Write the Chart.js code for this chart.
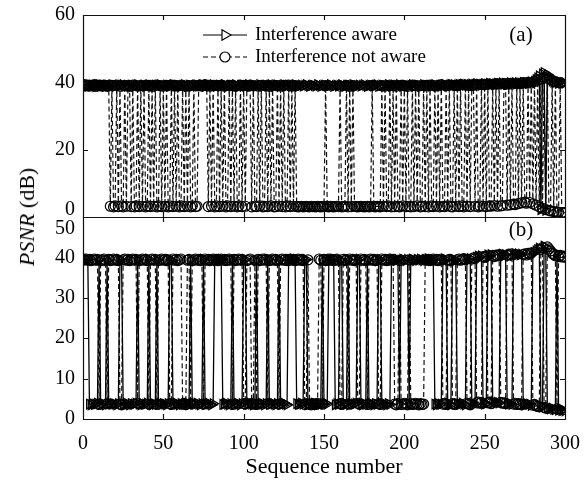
<!DOCTYPE html>
<html>
<head>
<meta charset="utf-8">
<script src="https://cdn.jsdelivr.net/npm/chart.js@4.4.0/dist/chart.umd.min.js"></script>
<style>
  html, body { margin: 0; padding: 0; background: #fff; }
  #fig { position: relative; width: 586px; height: 484px; overflow: hidden; font-family: "Liberation Serif", "Times New Roman", serif; color: #000; }
  #panelA { position: absolute; left: 0; top: 0; }
  #panelB { position: absolute; left: 0; top: 205px; }
  #ytitle { position: absolute; left: 27px; top: 217px; transform: translate(-50%, -50%) rotate(-90deg); font-size: 22px; white-space: nowrap; }
</style>
</head>
<body>
<div id="fig">
  <canvas id="panelA" width="586" height="232"></canvas>
  <canvas id="panelB" width="586" height="279"></canvas>
  <div id="ytitle"><i>PSNR</i> (dB)</div>
</div>
<script>
// sequence numbers 1..300 (x categories)
const seqNumbers = Array.from({ length: 300 }, (_, i) => i + 1);
const xTicks = [0, 50, 100, 150, 200, 250, 300];
const yTicksA = [0, 20, 40, 60];
const yTicksB = [0, 10, 20, 30, 40, 50];
const seriesNames = ['Interference aware', 'Interference not aware'];

// panel (a)
const awareA = [
  39.2,39.0,38.8,39.1,38.9,39.2,39.0,38.7,39.1,39.3,
  38.9,39.0,39.2,38.8,39.1,39.0,38.9,39.3,39.1,38.8,
  39.0,39.2,38.9,39.1,39.3,38.8,39.0,39.1,38.9,39.2,
  39.1,38.8,39.0,39.3,39.1,38.9,39.0,39.2,38.8,39.1,
  39.3,39.0,38.9,39.1,39.2,38.8,39.0,39.3,39.1,38.9,
  39.0,39.2,39.1,38.8,39.0,39.3,38.9,39.1,39.2,39.0,
  38.8,39.1,39.3,39.0,38.9,39.2,39.1,38.8,39.0,39.2,
  39.1,38.9,39.0,39.3,39.1,38.8,39.0,39.2,38.9,39.1,
  39.3,39.0,38.8,39.1,39.2,38.9,39.0,39.3,39.1,38.8,
  39.0,39.2,38.9,39.1,39.3,39.0,38.8,39.1,39.2,39.0,
  38.9,39.1,39.3,38.8,39.0,39.2,39.1,38.9,39.0,39.3,
  39.1,38.8,39.0,39.2,38.9,39.1,39.3,39.0,38.8,39.1,
  39.2,39.0,38.9,39.1,39.3,38.8,39.0,39.2,39.1,38.9,
  39.0,39.3,39.1,38.8,39.0,39.2,38.9,39.1,39.3,39.0,
  38.8,39.1,39.2,39.0,38.9,39.3,39.1,38.8,39.0,39.2,
  39.1,38.9,39.0,39.3,39.1,38.8,39.0,39.2,38.9,39.1,
  39.3,39.0,38.8,39.1,39.2,38.9,39.0,39.3,39.1,38.8,
  39.0,39.2,38.9,39.1,39.3,39.0,38.8,39.1,39.2,39.0,
  38.9,39.1,39.3,38.8,39.0,39.2,39.1,38.9,39.0,39.3,
  39.1,38.8,39.0,39.2,38.9,39.1,39.3,39.0,38.8,39.1,
  39.2,39.0,38.9,39.1,39.3,38.8,39.0,39.2,39.1,38.9,
  39.0,39.3,39.1,38.8,39.0,39.2,38.9,39.1,39.3,39.0,
  38.9,39.1,39.2,39.0,39.3,39.1,38.9,39.2,39.4,39.1,
  39.3,39.0,39.2,39.4,39.1,39.3,39.5,39.2,39.4,39.1,
  39.3,39.5,39.2,39.4,39.6,39.3,39.5,39.2,39.4,39.6,
  39.3,39.5,39.7,39.4,39.6,39.3,39.5,39.7,39.4,39.6,
  39.8,39.5,39.7,39.4,39.6,39.8,39.5,39.7,39.9,39.6,
  39.8,39.5,39.7,40.0,39.7,39.9,39.6,39.8,40.1,39.9,
  40.3,40.8,41.3,41.9,2.2,42.5,42.9,2.0,42.3,41.5,
  40.8,40.4,40.1,39.9,40.2,39.8,40.0,39.7,39.9,39.8
];
const notAwareA = [
  39.3,39.0,39.2,38.9,39.1,39.0,39.3,38.8,39.1,39.2,
  39.0,38.9,39.2,39.1,38.8,39.0,3.2,39.1,3.0,3.3,
  39.2,3.1,38.9,3.3,3.0,39.1,3.2,39.0,38.8,3.1,
  39.2,3.0,3.3,38.9,3.1,39.1,3.2,39.0,3.0,3.3,
  39.1,3.1,38.8,3.2,39.2,3.0,3.3,39.0,3.1,38.9,
  3.2,39.1,3.0,3.3,39.2,3.1,38.9,3.2,39.0,3.0,
  3.3,39.1,3.1,38.8,3.2,39.0,3.0,3.3,39.2,3.1,
  3.2,39.0,39.2,38.9,39.1,39.3,39.0,3.1,38.9,3.2,
  39.1,3.0,3.3,39.0,3.1,39.2,3.2,38.9,3.0,3.3,
  39.1,3.1,39.0,3.2,38.8,3.0,3.3,39.2,3.1,39.0,
  3.2,39.1,38.9,39.2,3.0,39.0,3.2,3.1,38.9,3.3,
  39.1,3.0,3.2,39.0,3.1,38.8,3.3,39.2,3.0,3.1,
  39.0,3.2,38.9,3.1,39.1,3.0,3.3,39.2,3.1,38.9,
  3.2,39.0,3.1,3.0,3.1,3.2,3.0,3.1,3.2,3.1,
  3.0,3.2,3.1,3.1,3.0,3.2,3.1,3.0,3.1,3.2,
  39.0,3.1,3.0,3.2,3.1,3.0,3.1,3.2,3.1,38.9,
  3.0,3.1,3.2,39.1,3.0,38.8,3.1,39.0,3.2,3.1,
  3.0,3.1,3.2,3.1,3.0,3.1,3.2,3.0,3.1,39.1,
  3.1,3.0,3.2,3.1,3.0,39.0,3.2,38.9,3.1,3.3,
  39.2,3.0,39.0,3.1,38.9,3.2,3.0,39.1,3.3,39.0,
  3.1,38.8,3.2,3.0,39.2,3.1,39.0,3.3,38.9,3.0,
  3.2,39.1,3.1,39.0,3.0,39.2,3.3,3.1,38.9,3.2,
  39.1,3.0,39.3,3.2,3.1,39.0,3.3,39.2,3.1,3.0,
  39.1,3.2,39.0,3.1,39.3,3.3,3.0,39.2,3.2,39.1,
  3.1,39.0,39.3,3.2,39.2,3.0,3.3,39.4,3.2,39.3,
  3.1,39.5,3.3,3.2,39.4,3.4,39.6,3.2,39.5,3.3,
  3.4,39.6,39.4,3.5,39.7,3.6,39.5,3.8,3.7,39.8,
  4.0,39.6,4.2,39.9,4.4,4.1,40.0,4.3,39.8,3.9,
  40.2,3.5,40.6,3.0,41.0,2.6,41.5,2.2,41.2,2.0,
  1.8,40.6,1.6,40.2,1.5,1.4,39.9,1.3,1.2,1.3
];

// panel (b)
const awareB = [
  39.6,39.3,39.5,3.7,3.5,3.8,3.6,3.7,3.9,39.4,
  3.6,3.8,3.7,3.5,39.2,3.7,3.9,3.6,3.8,3.7,
  3.5,3.8,39.5,39.3,3.7,3.6,3.9,3.7,3.5,3.8,
  3.6,3.7,3.9,39.4,3.7,3.5,3.8,3.6,3.7,3.9,
  39.6,3.7,3.5,3.8,3.6,39.3,3.7,3.9,3.6,3.8,
  3.7,3.5,3.8,39.5,39.2,3.6,3.7,3.9,3.7,3.5,
  3.8,3.6,3.7,3.9,3.7,3.5,39.4,3.8,3.6,3.7,
  3.9,3.7,3.5,3.8,39.6,3.6,3.7,3.9,3.7,3.5,
  3.8,39.4,39.2,39.5,39.3,39.6,3.6,3.7,3.9,3.7,
  3.5,3.8,39.4,3.6,3.7,3.9,3.7,3.5,3.8,39.3,
  39.5,3.6,3.7,3.9,3.7,3.5,3.8,39.2,3.6,3.7,
  3.9,3.7,3.5,3.8,39.6,3.6,3.7,3.9,3.7,3.5,
  3.8,39.4,3.6,3.7,3.9,3.7,3.5,39.3,39.5,39.2,
  39.6,39.4,3.8,3.6,3.7,3.9,3.7,39.3,39.5,3.5,
  3.8,3.6,3.7,3.9,3.7,3.5,3.8,3.6,39.4,3.7,
  3.9,3.7,39.2,39.5,39.3,39.6,3.5,3.8,3.6,39.4,
  39.2,3.7,3.9,3.7,39.5,3.5,3.8,3.6,3.7,3.9,
  39.3,39.6,3.7,3.5,3.8,3.6,39.4,3.7,3.9,3.7,
  3.5,3.8,3.6,39.2,39.5,3.7,3.9,3.7,3.5,3.8,
  3.6,39.3,39.6,39.4,39.2,39.5,3.7,39.3,39.6,39.4,
  39.2,39.5,3.8,39.3,39.6,39.4,39.2,39.5,39.3,39.6,
  39.4,39.2,39.5,39.3,39.6,39.4,39.2,39.5,3.7,3.5,
  3.8,3.6,3.7,39.3,39.6,39.4,3.9,3.7,3.5,39.2,
  39.5,39.3,3.8,3.6,3.7,3.9,3.7,3.5,39.6,39.4,
  39.7,3.8,3.6,3.7,40.0,40.3,40.1,40.4,3.9,3.7,
  3.8,40.6,40.3,40.7,4.0,4.2,3.9,4.1,4.0,40.5,
  40.8,40.4,40.7,3.9,3.7,3.8,3.6,40.5,40.8,40.6,
  40.9,40.6,40.8,3.7,3.5,3.8,3.6,3.7,3.4,40.9,
  41.2,41.6,41.9,42.3,3.2,3.0,42.8,42.5,2.8,2.6,
  2.5,2.7,2.4,2.3,41.0,2.2,2.4,2.1,2.2,2.0
];
const notAwareB = [
  39.4,39.6,39.3,39.5,39.2,39.4,39.6,39.3,39.5,3.6,
  39.2,39.4,39.6,39.3,3.8,39.5,39.2,39.4,39.6,39.3,
  39.5,39.2,3.7,3.5,39.4,39.6,39.3,39.5,39.2,39.4,
  39.6,39.3,39.5,3.9,39.2,39.4,39.6,39.3,39.5,39.2,
  3.7,39.4,39.6,39.3,39.5,3.6,39.2,39.4,39.6,39.3,
  39.5,39.2,39.4,3.8,3.6,39.6,39.3,39.5,39.2,39.4,
  39.6,3.7,3.9,3.6,39.3,39.5,3.8,39.2,39.4,39.6,
  39.3,39.5,39.2,39.4,3.7,39.6,39.3,39.5,39.2,39.4,
  39.6,39.3,39.5,39.2,39.4,39.6,39.3,39.5,39.2,39.4,
  39.6,39.3,3.6,39.5,39.2,39.4,39.6,39.3,39.5,3.8,
  3.7,39.2,39.4,39.6,3.9,3.7,39.3,3.6,39.5,39.2,
  39.4,39.6,39.3,39.5,3.8,39.2,39.4,39.6,39.3,39.5,
  39.2,3.7,39.4,39.6,39.3,39.5,39.2,39.4,39.6,39.3,
  39.5,39.2,39.4,39.6,39.3,39.5,39.2,3.6,3.8,39.4,
  3.7,3.5,3.8,3.6,3.7,3.9,39.6,39.3,3.7,39.5,
  39.2,39.4,39.6,39.3,39.5,39.2,39.4,39.6,39.3,3.8,
  3.6,39.5,39.2,39.4,3.7,39.6,39.3,39.5,39.2,39.4,
  3.9,3.7,39.6,39.3,39.5,39.2,3.6,39.4,39.6,39.3,
  39.5,39.2,39.4,3.8,3.6,39.6,39.3,39.5,39.2,39.4,
  39.6,39.3,39.5,3.7,3.5,3.8,39.2,3.6,3.7,3.9,
  3.7,3.5,39.4,3.8,3.6,3.7,3.9,3.7,3.5,3.8,
  3.6,3.7,39.6,39.3,39.5,39.2,39.4,39.6,39.3,39.5,
  39.2,39.4,39.6,3.7,3.9,3.6,39.3,39.5,39.2,3.8,
  3.6,3.7,39.4,39.6,39.3,39.5,39.7,39.4,3.9,3.7,
  3.5,39.6,39.9,39.7,4.0,4.2,3.9,4.1,40.2,40.0,
  40.3,4.0,4.2,3.8,40.5,40.2,40.6,40.4,40.7,4.1,
  3.9,4.0,3.8,40.5,40.8,40.6,40.9,3.7,3.9,3.6,
  3.8,3.7,3.5,40.7,40.9,40.6,41.0,40.8,41.1,3.4,
  3.6,3.3,3.1,3.0,42.0,42.4,2.9,2.7,42.6,42.1,
  41.6,41.0,40.7,40.4,2.5,40.2,40.5,40.1,40.3,40.0
];

const FONT = '"Liberation Serif", "Times New Roman", serif';

// box, inward ticks, y labels and panel tag
const framePlugin = {
  id: 'frame',
  afterDraw(chart, args, opts) {
    const { ctx, chartArea: a, scales: { x, y } } = chart;
    ctx.save();
    ctx.strokeStyle = '#111';
    ctx.lineWidth = 1.2;
    ctx.beginPath();
    ctx.rect(Math.round(a.left) + 0.5, Math.round(a.top) + 0.5, Math.round(a.width), Math.round(a.height));
    opts.xTicks.forEach(v => {
      const px = Math.round(x.getPixelForValue(v)) + 0.5;
      ctx.moveTo(px, a.top); ctx.lineTo(px, a.top + 5);
      ctx.moveTo(px, a.bottom); ctx.lineTo(px, a.bottom - 5);
    });
    opts.yTicks.forEach(v => {
      const py = Math.round(y.getPixelForValue(v)) + 0.5;
      ctx.moveTo(a.left, py); ctx.lineTo(a.left + 5, py);
      ctx.moveTo(a.right, py); ctx.lineTo(a.right - 5, py);
    });
    ctx.stroke();

    ctx.fillStyle = '#000';
    ctx.font = '20px ' + FONT;
    ctx.textAlign = 'right';
    ctx.textBaseline = 'middle';
    opts.yTicks.forEach(v => {
      const nudge = (opts.nudge && opts.nudge[v]) || 0;
      ctx.fillText(String(v), a.left - 8, y.getPixelForValue(v) + nudge);
    });

    ctx.font = '21px ' + FONT;
    ctx.textAlign = 'center';
    ctx.fillText(opts.tag, a.right - 44, a.top + opts.tagDy);
    ctx.restore();
  }
};

// legend drawn inside panel (a)
const insideLegend = {
  id: 'insideLegend',
  afterDraw(chart, args, opts) {
    if (!opts.show) return;
    const ctx = chart.ctx;
    ctx.save();
    chart.data.datasets.forEach((ds, i) => {
      const y = opts.top + i * opts.rowGap;
      const cx = opts.left + 22;
      ctx.strokeStyle = '#000';
      ctx.lineWidth = 1.2;
      ctx.setLineDash(ds.borderDash || []);
      ctx.beginPath();
      ctx.moveTo(opts.left, y);
      ctx.lineTo(opts.left + 44, y);
      ctx.stroke();
      ctx.setLineDash([]);
      ctx.fillStyle = '#fff';
      ctx.beginPath();
      if (ds.pointStyle === 'triangle') {
        const r = 6;
        ctx.moveTo(cx + r, y);
        ctx.lineTo(cx - r / 2, y - r * 0.866);
        ctx.lineTo(cx - r / 2, y + r * 0.866);
        ctx.closePath();
      } else {
        ctx.arc(cx, y, 5, 0, Math.PI * 2);
      }
      ctx.fill();
      ctx.stroke();
      ctx.fillStyle = '#000';
      ctx.font = '19px ' + FONT;
      ctx.textAlign = 'left';
      ctx.textBaseline = 'middle';
      ctx.fillText(ds.label, opts.left + 52, y);
    });
    ctx.restore();
  }
};

function makeSets(aware, notAware) {
  return [{
    label: seriesNames[0],
    data: aware,
    borderColor: '#000',
    borderWidth: 1.3,
    pointStyle: 'triangle',
    pointRotation: 90,
    pointRadius: 5.5,
    pointBorderWidth: 1.3,
    pointBorderColor: '#000',
    pointBackgroundColor: 'rgba(255,255,255,0)'
  }, {
    label: seriesNames[1],
    data: notAware,
    borderColor: '#111',
    borderWidth: 1.2,
    borderDash: [5, 3],
    pointStyle: 'circle',
    pointRadius: 5,
    pointBorderWidth: 1.2,
    pointBorderColor: '#000',
    pointBackgroundColor: 'rgba(255,255,255,0)'
  }];
}

function makePanel(canvasId, aware, notAware, cfg) {
  return new Chart(document.getElementById(canvasId), {
    type: 'line',
    data: { labels: seqNumbers, datasets: makeSets(aware, notAware) },
    plugins: [framePlugin, insideLegend],
    options: {
      responsive: false,
      animation: false,
      devicePixelRatio: 1,
      layout: { padding: cfg.padding },
      plugins: {
        legend: { display: false },
        tooltip: { enabled: false },
        frame: { xTicks, yTicks: cfg.yTicks, nudge: cfg.nudge, tag: cfg.tag, tagDy: cfg.tagDy },
        insideLegend: cfg.legend
      },
      scales: {
        x: {
          type: 'linear',
          min: 0,
          max: 300,
          grid: { display: false, drawTicks: false },
          border: { display: false },
          ticks: {
            display: cfg.showX,
            stepSize: 50,
            padding: 13,
            color: '#000',
            font: { family: FONT, size: 20 }
          },
          title: {
            display: cfg.showX,
            text: 'Sequence number',
            color: '#000',
            font: { family: FONT, size: 22 },
            padding: { top: 0, bottom: 4 }
          },
          afterFit: s => {
            s.height = cfg.xHeight;
            // keep the plot box where the reference has it
            s.paddingLeft = 0;
            s.paddingRight = 0;
          }
        },
        y: {
          min: 0,
          max: cfg.yTicks[cfg.yTicks.length - 1],
          grid: { display: false, drawTicks: false },
          border: { display: false },
          ticks: { display: false, stepSize: cfg.yTicks[1] },
          afterFit: s => { s.width = 83; }
        }
      }
    }
  });
}

makePanel('panelA', awareA, notAwareA, {
  padding: { left: 0, right: 21, top: 15, bottom: 15 },
  yTicks: yTicksA,
  nudge: { 0: -7 },
  tag: '(a)',
  tagDy: 20,
  showX: false,
  xHeight: 0,
  legend: { show: true, left: 203, top: 35, rowGap: 22 }
});

makePanel('panelB', awareB, notAwareB, {
  padding: { left: 0, right: 21, top: 12, bottom: 0 },
  yTicks: yTicksB,
  nudge: { 50: 12 },
  tag: '(b)',
  tagDy: 13,
  showX: true,
  xHeight: 65,
  legend: { show: false }
});
</script>
</body>
</html>
